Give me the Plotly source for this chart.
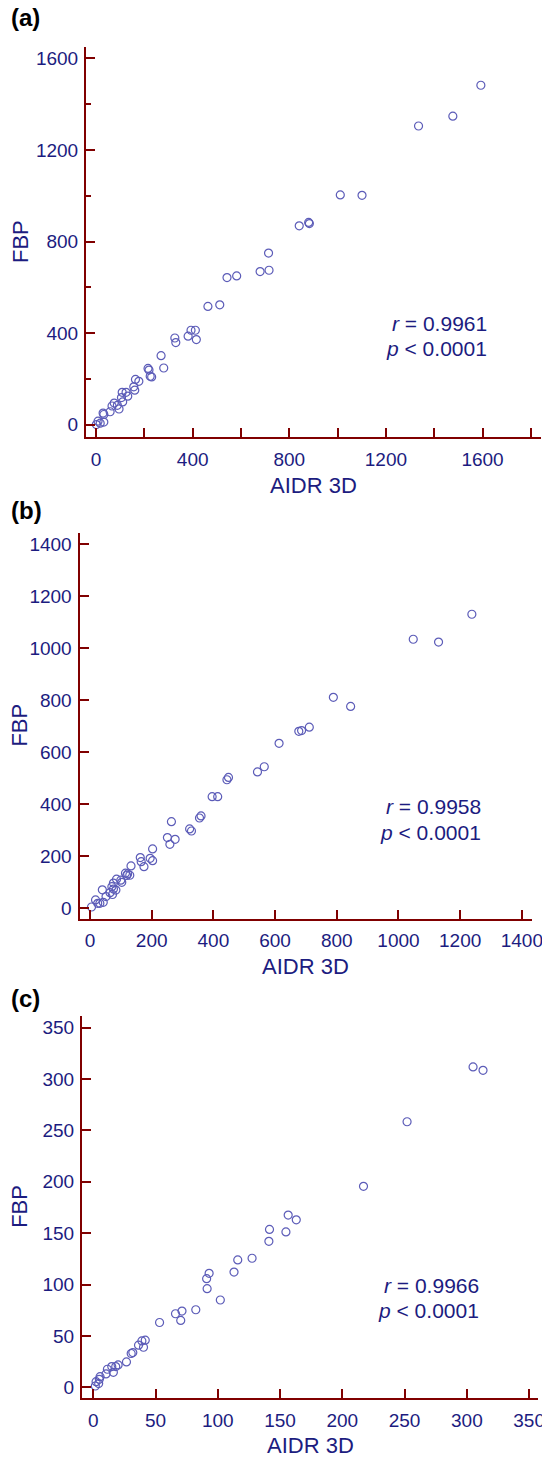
import plotly.graph_objects as go

# ---------------- data ----------------
a_aidr = [1593, 1477, 1335, 1101, 1011, 883, 880, 841, 714, 716, 679, 542, 582, 463, 512,
          326, 330, 381, 393, 411, 415, 269, 280, 215, 219, 224, 230, 163, 177, 156, 160,
          131, 124, 108, 105, 110, 95, 88, 75, 66, 58, 32, 29, 17, 8, 32, 1]
a_fbp = [1483, 1348, 1305, 1002, 1004, 879, 884, 869, 750, 675, 669, 643, 650, 517, 524,
         379, 359, 387, 413, 413, 372, 302, 248, 246, 239, 212, 209, 198, 190, 166, 151,
         125, 142, 142, 119, 100, 69, 85, 95, 82, 57, 45, 51, 7, 16, 12, 1]

b_aidr = [1238, 1048, 1130, 789, 845, 711, 686, 677, 613, 565, 543, 449, 444, 414, 396,
          360, 355, 323, 329, 264, 251, 259, 276, 203, 203, 195, 163, 166, 175, 133, 129,
          119, 115, 103, 86, 76, 76, 71, 73, 52, 40, 43, 25, 18, 5, 122, 65, 100, 32, 84]
b_fbp = [1130, 1034, 1023, 811, 776, 696, 683, 680, 634, 544, 524, 503, 494, 429, 429,
         355, 347, 305, 297, 333, 272, 246, 265, 228, 183, 192, 195, 179, 160, 163, 127,
         126, 135, 100, 112, 97, 74, 83, 53, 45, 71, 23, 19, 32, 5, 132, 60, 108, 19, 70]

c_aidr = [313, 305, 252, 217, 156.5, 163, 141.5, 141, 154.7, 127.5, 116, 113, 93, 91, 91.4,
          102, 82.3, 71.2, 66, 70.2, 53.2, 41.7, 39, 40.3, 36.3, 31.7, 30.4, 26.6, 19.9, 18,
          14.8, 16.1, 11.3, 10.2, 5.4, 4.3, 1.6, 2.2, 4.8]
c_fbp = [308.5, 311.8, 258.5, 195.6, 167.6, 163, 153.7, 142.1, 151.2, 125.6, 124, 112.2, 111,
         105.7, 96, 85, 75.5, 74.2, 71.6, 65.1, 63.1, 45.9, 45.2, 39, 41, 33.8, 32.9, 24.7,
         21.8, 20.2, 20.2, 14.6, 17.6, 13, 10.4, 3.6, 1.3, 5.5, 7.8]

a_xticks = [0, 200, 400, 600, 800, 1000, 1200, 1400, 1600, 1800]
a_xlabels = ["0", "", "400", "", "800", "", "1200", "", "1600", ""]
a_yticks = [0, 400, 800, 1200, 1600]
b_ticks = [0, 200, 400, 600, 800, 1000, 1200, 1400]
c_ticks = [0, 50, 100, 150, 200, 250, 300, 350]

panel_labels = ["(a)", "(b)", "(c)"]
r_texts = ["<i>r</i> = 0.9961", "<i>r</i> = 0.9958", "<i>r</i> = 0.9966"]
p_text = "<i>p</i> < 0.0001"
x_title = "AIDR 3D"
y_title = "FBP"

# ---------------- layout geometry ----------------
W, H = 542, 1459
FONT = "Liberation Sans, Arial, sans-serif"
NAVY = "#1c1c80"
AXC = "#800000"
MARK = "#5c5cb8"


def fx(px):
    return px / W


def fy(py):
    return 1 - py / H


# pixel boxes: (x0, x1, ytop, ybottom), axis ranges
panels = [
    dict(box=(86, 541, 47, 437), xr=[-41.8, 1842], yr=[-53.3, 1650],
         x=a_aidr, y=a_fbp, rx=489, ry=(323, 348), lab_y=18),
    dict(box=(79.5, 531.7, 532.7, 918.5), xr=[-34, 1432], yr=[-39.2, 1443.5],
         x=b_aidr, y=b_fbp, rx=483, ry=(806, 832), lab_y=510),
    dict(box=(82, 538.3, 1016, 1397.7), xr=[-9.1, 357.4], yr=[-10.1, 361.4],
         x=c_aidr, y=c_fbp, rx=481, ry=(1285.5, 1310), lab_y=998),
]

fig = go.Figure()
layout = dict(
    width=W, height=H, autosize=False, margin=dict(l=0, r=0, t=0, b=0, autoexpand=False),
    paper_bgcolor="white", plot_bgcolor="white", showlegend=False,
    font=dict(family=FONT, color=NAVY),
)
annotations = []

for i, p in enumerate(panels):
    n = "" if i == 0 else str(i + 1)
    x0, x1, yt, yb = p["box"]
    fig.add_trace(go.Scatter(
        x=p["x"], y=p["y"], mode="markers",
        marker=dict(symbol="circle-open", size=8, color=MARK, line=dict(width=1.2, color=MARK)),
        xaxis="x" + n, yaxis="y" + n, cliponaxis=False, hoverinfo="x+y",
    ))
    common = dict(showgrid=False, zeroline=False, showline=True, linecolor=AXC, linewidth=2,
                  ticks="inside", ticklen=9, tickwidth=2, tickcolor=AXC,
                  tickfont=dict(family=FONT, size=19, color=NAVY), fixedrange=True,
                  ticklabeloverflow="allow", automargin=False)
    xa = dict(common, domain=[fx(x0), fx(x1)], range=p["xr"], anchor="y" + n)
    ya = dict(common, domain=[fy(yb), fy(yt)], range=p["yr"], anchor="x" + n)
    if i == 0:
        xa.update(tickmode="array", tickvals=a_xticks, ticktext=a_xlabels)
        ya.update(tickmode="array", tickvals=a_yticks,
                  minor=dict(dtick=200, tick0=0, ticks="inside", ticklen=5, tickwidth=2, tickcolor=AXC))
    elif i == 1:
        xa.update(tickmode="array", tickvals=b_ticks)
        ya.update(tickmode="array", tickvals=b_ticks)
    else:
        xa.update(tickmode="array", tickvals=c_ticks)
        ya.update(tickmode="array", tickvals=c_ticks)
    xa["ticklabelstandoff"] = 4
    ya["ticklabelstandoff"] = 2
    layout["xaxis" + n] = xa
    layout["yaxis" + n] = ya

    # axis titles
    annotations.append(dict(text=x_title, xref="paper", yref="paper",
                            x=fx((x0 + x1) / 2), y=fy(yb + 48), xanchor="center", yanchor="middle",
                            showarrow=False, font=dict(size=22, color=NAVY, family=FONT)))
    annotations.append(dict(text=y_title, xref="paper", yref="paper", textangle=-90,
                            x=fx(20), y=fy((yt + yb) / 2), xanchor="center", yanchor="middle",
                            showarrow=False, font=dict(size=22, color=NAVY, family=FONT)))
    # r / p annotation
    annotations.append(dict(text=r_texts[i], xref="paper", yref="paper",
                            x=fx(p["rx"]), y=fy(p["ry"][0]), xanchor="right", yanchor="middle",
                            showarrow=False, font=dict(size=21, color=NAVY, family=FONT)))
    annotations.append(dict(text=p_text, xref="paper", yref="paper",
                            x=fx(p["rx"]), y=fy(p["ry"][1]), xanchor="right", yanchor="middle",
                            showarrow=False, font=dict(size=21, color=NAVY, family=FONT)))
    # panel label
    annotations.append(dict(text="<b>" + panel_labels[i] + "</b>", xref="paper", yref="paper",
                            x=fx(9), y=fy(p["lab_y"]), xanchor="left", yanchor="middle",
                            showarrow=False, font=dict(size=24, color="black", family=FONT)))

layout["annotations"] = annotations
fig.update_layout(**layout)
post = (
    "document.documentElement.style.overflow='hidden';"
    "document.body.style.overflow='hidden';"
    "document.body.style.margin='0';document.body.style.padding='0';"
)
fig.write_html("out.html", config={"displayModeBar": False}, post_script=post)
